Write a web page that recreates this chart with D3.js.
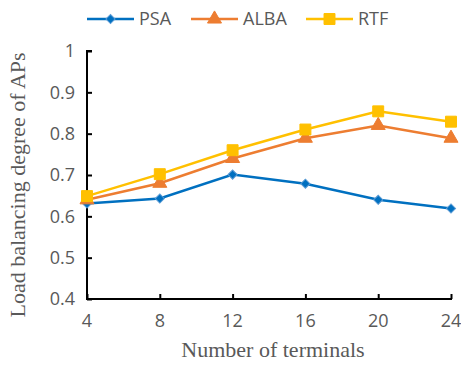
<!DOCTYPE html>
<html><head><meta charset="utf-8">
<script src="https://cdn.jsdelivr.net/npm/d3@7"></script>
<style>body{margin:0;background:#fff}</style>
</head><body>
<svg id="c" width="461" height="366"></svg>
<script>
const categories = [4, 8, 12, 16, 20, 24];
const psa = [0.631, 0.643, 0.701, 0.679, 0.640, 0.619];
const alba = [0.640, 0.680, 0.740, 0.789, 0.820, 0.789];
const rtf = [0.649, 0.702, 0.760, 0.810, 0.854, 0.829];
const yTicks = [0.4, 0.5, 0.6, 0.7, 0.8, 0.9, 1];
const seriesNames = ["PSA", "ALBA", "RTF"];

const svg = d3.select("#c");
const x = d3.scaleLinear().domain([4, 24]).range([87, 451]);
const y = d3.scaleLinear().domain([0.4, 1]).range([299, 51]);
const colors = ["#0070C0", "#ED7D31", "#FFC000"];
const data = [psa, alba, rtf];
const tickFont = "'Open Sans', 'Liberation Sans', sans-serif";
const serif = "'Liberation Serif', 'Times New Roman', serif";

// axes
const yAxis = svg.append("g").attr("transform", "translate(87,0)")
  .call(d3.axisRight(y).tickValues(yTicks).tickSize(5));
yAxis.selectAll("text").remove();
yAxis.selectAll("line, path").attr("stroke", "#000").attr("stroke-width", 2);
yAxis.select(".domain").attr("d", "M5,51H0V299");

const xAxis = svg.append("g").attr("transform", "translate(0,299)")
  .call(d3.axisTop(x).tickValues(categories).tickSize(5));
xAxis.selectAll("text").remove();
xAxis.selectAll("line, path").attr("stroke", "#000").attr("stroke-width", 2);
xAxis.select(".domain").attr("d", "M86,0H452");

// tick labels
svg.append("g").selectAll("text").data(yTicks).join("text")
  .attr("x", 75).attr("y", d => y(d)).attr("dy", "0.36em")
  .attr("text-anchor", "end").attr("font-family", tickFont).attr("font-size", 18)
  .attr("fill", "#595959").text(d => d3.format("")(d));
svg.append("g").selectAll("text").data(categories).join("text")
  .attr("x", d => x(d)).attr("y", 327)
  .attr("text-anchor", "middle").attr("font-family", tickFont).attr("font-size", 18)
  .attr("fill", "#595959").text(d => d);

// axis titles
svg.append("text").attr("x", 273).attr("y", 357).attr("text-anchor", "middle")
  .attr("font-family", serif).attr("font-size", 22)
  .attr("fill", "#595959").text("Number of terminals");
svg.append("text").attr("transform", "translate(25,185) rotate(-90)").attr("text-anchor", "middle")
  .attr("font-family", serif).attr("font-size", 22)
  .attr("fill", "#595959").text("Load balancing degree of APs");

const line = d3.line().x((d, i) => x(categories[i])).y(d => y(d));
const symbols = [d3.symbolSquare, d3.symbolTriangle, d3.symbolSquare];
const symSizes = [42, 85, 120];
const rot = [45, 0, 0];

function marker(g, k, cx, cy) {
  g.append("path").attr("d", d3.symbol().type(symbols[k]).size(symSizes[k])())
    .attr("transform", `translate(${cx},${cy}) rotate(${rot[k]})`)
    .attr("fill", colors[k]).attr("stroke", k === 0 ? "#5B9BD5" : colors[k]).attr("stroke-width", 1);
}

data.forEach((vals, k) => {
  const g = svg.append("g");
  g.append("path").datum(vals).attr("d", line).attr("fill", "none")
    .attr("stroke", colors[k]).attr("stroke-width", 2.5);
  vals.forEach((v, i) => marker(g, k, x(categories[i]), y(v)));
});

// legend
const legX = [87, 191, 306];
seriesNames.forEach((n, k) => {
  const g = svg.append("g");
  g.append("line").attr("x1", legX[k]).attr("x2", legX[k] + 47).attr("y1", 19).attr("y2", 19)
    .attr("stroke", colors[k]).attr("stroke-width", 2.5);
  marker(g, k, legX[k] + 23.5, 19);
  g.append("text").attr("x", legX[k] + 52).attr("y", 19).attr("dy", "0.36em")
    .attr("font-family", tickFont).attr("font-size", 18).attr("fill", "#595959").text(n);
});
</script>
</body></html>
